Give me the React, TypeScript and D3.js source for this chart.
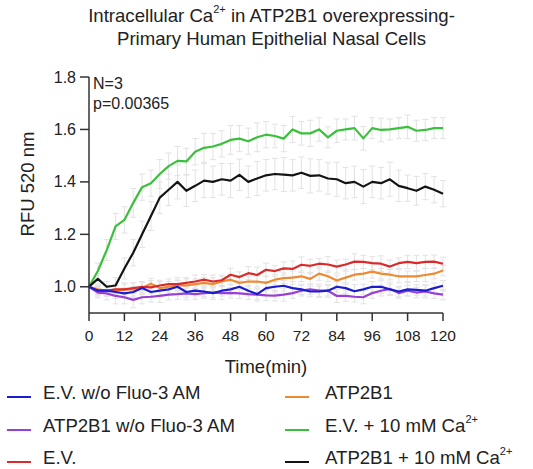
import React from "react";
import * as d3 from "d3";

const times = d3.range(0, 121, 3);

const evNoFluo = [1.00,0.985,0.985,0.98,0.975,0.98,0.995,0.98,0.985,0.99,1.00,0.98,0.985,0.982,0.976,0.985,0.99,1.00,0.985,0.972,0.995,1.00,1.004,0.995,0.99,0.982,0.982,0.985,1.00,0.995,0.983,0.99,1.00,1.00,0.99,0.982,0.99,0.988,0.985,0.995,1.004];
const atpNoFluo = [1.00,0.978,0.975,0.965,0.96,0.95,0.96,0.962,0.965,0.97,0.972,0.975,0.972,0.976,0.978,0.976,0.977,0.975,0.972,0.97,0.967,0.966,0.97,0.976,0.985,0.99,0.985,0.985,0.965,0.965,0.962,0.96,0.976,0.985,0.992,0.976,0.985,0.978,0.982,0.975,0.97];
const ev = [1.00,0.985,0.985,0.99,0.99,0.995,1.00,0.998,1.005,1.01,1.01,1.015,1.02,1.027,1.02,1.025,1.046,1.037,1.052,1.045,1.065,1.06,1.07,1.068,1.084,1.08,1.088,1.085,1.077,1.085,1.096,1.095,1.09,1.088,1.077,1.09,1.095,1.09,1.095,1.096,1.088];
const atp = [1.00,0.99,0.985,0.985,0.99,0.99,0.995,1.012,0.995,1.00,1.005,1.005,1.01,1.015,1.01,1.02,1.027,1.015,1.02,1.02,1.015,1.027,1.033,1.035,1.04,1.03,1.05,1.04,1.024,1.035,1.046,1.05,1.058,1.05,1.046,1.04,1.04,1.04,1.045,1.05,1.062];
const evCa = [1.00,1.06,1.14,1.23,1.255,1.32,1.38,1.395,1.43,1.46,1.48,1.478,1.515,1.53,1.535,1.545,1.56,1.565,1.555,1.57,1.58,1.575,1.565,1.60,1.585,1.585,1.60,1.57,1.595,1.60,1.605,1.566,1.605,1.598,1.60,1.605,1.61,1.595,1.598,1.605,1.605];
const atpCa = [1.00,1.03,1.00,1.005,1.07,1.13,1.20,1.27,1.34,1.37,1.40,1.366,1.385,1.405,1.40,1.41,1.405,1.427,1.40,1.413,1.425,1.43,1.428,1.425,1.435,1.423,1.425,1.413,1.41,1.395,1.40,1.382,1.40,1.395,1.41,1.385,1.376,1.366,1.382,1.37,1.355];

const errLow1 = [0.00,0.02,0.02,0.025,0.02,0.02,0.025,0.02,0.02,0.02,0.025,0.02,0.02,0.02,0.025,0.02,0.02,0.025,0.02,0.02,0.025,0.02,0.02,0.025,0.02,0.02,0.02,0.025,0.02,0.02,0.025,0.02,0.02,0.025,0.02,0.02,0.025,0.02,0.02,0.02,0.02];
const errLow2 = [0.00,0.02,0.025,0.03,0.025,0.03,0.025,0.02,0.025,0.02,0.02,0.025,0.02,0.02,0.02,0.025,0.02,0.02,0.02,0.025,0.02,0.02,0.025,0.02,0.02,0.02,0.025,0.02,0.025,0.02,0.02,0.025,0.02,0.02,0.025,0.02,0.02,0.02,0.025,0.02,0.02];
const errEv = [0.00,0.015,0.02,0.02,0.025,0.02,0.02,0.025,0.02,0.02,0.025,0.02,0.025,0.02,0.025,0.02,0.025,0.02,0.025,0.03,0.025,0.02,0.025,0.03,0.03,0.025,0.02,0.03,0.025,0.02,0.03,0.025,0.025,0.03,0.025,0.02,0.025,0.03,0.025,0.025,0.025];
const errAtp = [0.00,0.015,0.02,0.02,0.02,0.025,0.02,0.02,0.025,0.02,0.02,0.025,0.02,0.02,0.025,0.02,0.02,0.025,0.02,0.02,0.025,0.02,0.02,0.025,0.02,0.02,0.025,0.02,0.02,0.025,0.02,0.02,0.025,0.02,0.02,0.025,0.02,0.02,0.025,0.02,0.02];
const errEvCa = [0.00,0.03,0.04,0.05,0.05,0.055,0.05,0.05,0.055,0.05,0.055,0.05,0.05,0.055,0.05,0.05,0.055,0.05,0.05,0.055,0.05,0.045,0.05,0.05,0.045,0.05,0.045,0.04,0.045,0.04,0.045,0.045,0.04,0.045,0.04,0.04,0.045,0.04,0.04,0.04,0.04];
const errAtpCa = [0.00,0.02,0.02,0.03,0.04,0.05,0.05,0.055,0.06,0.06,0.065,0.06,0.06,0.065,0.06,0.06,0.065,0.06,0.06,0.065,0.06,0.06,0.065,0.06,0.06,0.065,0.06,0.06,0.065,0.06,0.06,0.065,0.06,0.06,0.065,0.06,0.05,0.055,0.05,0.05,0.05];

const seriesNames = ["E.V. w/o Fluo-3 AM","ATP2B1 w/o Fluo-3 AM","E.V.","ATP2B1","E.V. + 10 mM Ca","ATP2B1 + 10 mM Ca"];
const seriesSup = ["","","","","2+","2+"];
const seriesColors = ["#1c1ccf","#9a3fd6","#dc2a2a","#ee8a30","#3cbf3c","#141414"];
const seriesValues = [evNoFluo, atpNoFluo, ev, atp, evCa, atpCa];
const seriesErrors = [errLow1, errLow2, errEv, errAtp, errEvCa, errAtpCa];
const drawOrder = [4, 5, 3, 2, 1, 0];

const xTicks = d3.range(0, 121, 12);
const yTicks = [1.0, 1.2, 1.4, 1.6, 1.8];

const FONT = "'Liberation Sans', Arial, Helvetica, sans-serif";

export default function App() {
  const W = 533, H = 469;
  const x = d3.scaleLinear().domain([0, 120]).range([89, 443]);
  const y = d3.scaleLinear().domain([0.9, 1.8]).range([313, 77]);
  const line = d3.line<number>().x((_, i) => x(times[i])).y(d => y(d));
  const axisColor = "#333";

  const legendRows = [392, 425, 457];
  const legendPos = seriesNames.map((_, i) => ({
    col: i < 3 ? 0 : 1,
    row: i % 3,
  }));

  return (
    <svg width={W} height={H} style={{ position: "absolute", left: 0, top: 0, background: "#fff" }} fontFamily={FONT}>
      <rect width={W} height={H} fill="#fff" />
      {/* Title */}
      <text x={271.5} y={15} textAnchor="middle" dominantBaseline="central" fontSize={18.6} fill="#222">
        Intracellular Ca<tspan fontSize={11} dy={-6}>2+</tspan><tspan dy={6}> in ATP2B1 overexpressing-</tspan>
      </text>
      <text x={271.5} y={38} textAnchor="middle" dominantBaseline="central" fontSize={18.6} fill="#222">
        Primary Human Epithelial Nasal Cells
      </text>

      {/* Error bars */}
      <g stroke="#d4d4d4" strokeWidth={1} opacity={0.65}>
        {drawOrder.map(si =>
          seriesValues[si].map((v, i) => {
            const e = seriesErrors[si][i];
            if (!e) return null;
            const cx = x(times[i]);
            return (
              <g key={`e${si}-${i}`}>
                <line x1={cx} x2={cx} y1={y(v - e)} y2={y(v + e)} />
                <line x1={cx - 3} x2={cx + 3} y1={y(v - e)} y2={y(v - e)} />
                <line x1={cx - 3} x2={cx + 3} y1={y(v + e)} y2={y(v + e)} />
              </g>
            );
          })
        )}
      </g>

      {/* Lines */}
      {drawOrder.map(si => (
        <path key={`l${si}`} d={line(seriesValues[si]) || ""} fill="none" stroke={seriesColors[si]} strokeWidth={2.2} strokeLinejoin="round" />
      ))}

      {/* Y axis */}
      <line x1={89} x2={89} y1={y(1.8)} y2={313} stroke={axisColor} strokeWidth={1.5} />
      {yTicks.map(t => (
        <g key={`yt${t}`}>
          <line x1={80} x2={89} y1={y(t)} y2={y(t)} stroke={axisColor} strokeWidth={1.5} />
          <text x={76} y={y(t)} textAnchor="end" dominantBaseline="central" fontSize={16} fill="#222">{t.toFixed(1)}</text>
        </g>
      ))}
      <text transform={`translate(27,184) rotate(-90)`} textAnchor="middle" dominantBaseline="central" fontSize={18.5} fill="#222">RFU 520 nm</text>

      {/* X axis */}
      <line x1={89} x2={443} y1={313} y2={313} stroke={axisColor} strokeWidth={1.5} />
      {xTicks.map(t => (
        <g key={`xt${t}`}>
          <line x1={x(t)} x2={x(t)} y1={313} y2={321} stroke={axisColor} strokeWidth={1.5} />
          <text x={x(t)} y={335} textAnchor="middle" dominantBaseline="central" fontSize={15.5} fill="#222">{t}</text>
        </g>
      ))}
      <text x={266} y={366} textAnchor="middle" dominantBaseline="central" fontSize={18.5} fill="#222">Time(min)</text>

      {/* Annotations */}
      <text x={93} y={83} dominantBaseline="central" fontSize={16} fill="#222">N=3</text>
      <text x={93} y={103} dominantBaseline="central" fontSize={16} fill="#222">p=0.00365</text>

      {/* Legend */}
      {seriesNames.map((name, i) => {
        const p = legendPos[i];
        const ty = legendRows[p.row];
        const mx = p.col === 0 ? 7 : 285;
        const tx = p.col === 0 ? 43 : 325;
        return (
          <g key={`lg${i}`}>
            <line x1={mx} x2={mx + 24} y1={ty + 5} y2={ty + 5} stroke={seriesColors[i]} strokeWidth={2} />
            <text x={tx} y={ty} dominantBaseline="central" fontSize={18.6} fill="#222">
              {name}
              {seriesSup[i] ? <tspan fontSize={11} dy={-6}>{seriesSup[i]}</tspan> : null}
            </text>
          </g>
        );
      })}
    </svg>
  );
}
